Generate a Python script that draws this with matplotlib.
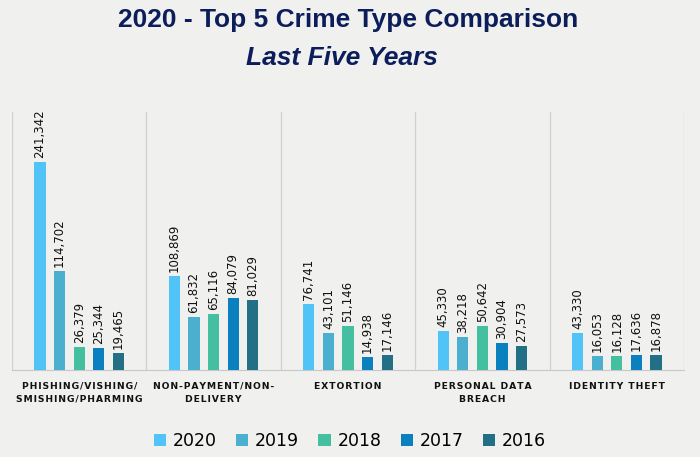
import matplotlib
matplotlib.use("Agg")
import matplotlib.pyplot as plt
import numpy as np
from matplotlib.patches import Patch

categories = ["PHISHING/VISHING/\nSMISHING/PHARMING", "NON-PAYMENT/NON-\nDELIVERY",
              "EXTORTION", "PERSONAL DATA\nBREACH", "IDENTITY THEFT"]
years = ["2020", "2019", "2018", "2017", "2016"]
v2020 = [241342, 108869, 76741, 45330, 43330]
v2019 = [114702, 61832, 43101, 38218, 16053]
v2018 = [26379, 65116, 51146, 50642, 16128]
v2017 = [25344, 84079, 14938, 30904, 17636]
v2016 = [19465, 81029, 17146, 27573, 16878]
series = [v2020, v2019, v2018, v2017, v2016]
colors = ["#52C3F7", "#4BAFCF", "#44BF9F", "#0A80BF", "#236F86"]


def spaced(s):
    return "\n".join("\u200a".join(line) for line in s.split("\n"))


bg = "#F0F0EE"
fig = plt.figure(figsize=(7, 4.57), dpi=100, facecolor=bg)
ax = fig.add_axes([12/700, 1-370/457, 672/700, (370-112)/457])
ax.set_facecolor("none")

n = len(categories)
x = np.arange(n)
slot = 19.6/134.4
bw = slot*0.57
for i, (vals, c) in enumerate(zip(series, colors)):
    pos = x + (i-2)*slot
    ax.bar(pos, vals, width=bw, color=c, zorder=3)
    for p, v in zip(pos, vals):
        ax.annotate(f"{v:,}", (p, v), xytext=(0, 3), textcoords="offset points",
                    rotation=90, ha="center", va="bottom", fontsize=8.5,
                    family="DejaVu Sans", color="#111111", zorder=4)

ax.set_xlim(-0.5, n-0.5)
ax.set_ylim(0, 300000)
for b in np.arange(-0.5, n, 1.0):
    ax.axvline(b, color="#D0D0D0", lw=0.9, zorder=1)
for s in ["top", "left", "right"]:
    ax.spines[s].set_visible(False)
ax.spines["bottom"].set_color("#C8C8C8")
ax.set_yticks([])
ax.set_xticks(x)
ax.set_xticklabels([spaced(c) for c in categories], fontsize=6.7, fontweight="bold",
                   color="#111111", linespacing=1.55, family="DejaVu Sans")
ax.tick_params(axis="x", length=0, pad=8.5)

fig.text(0.497, 1-27/457, "2020 - Top 5 Crime Type Comparison", ha="center",
         va="baseline", fontsize=19, fontweight="bold", color="#0B1D5A",
         family="Liberation Sans")
fig.text(0.4885, 1-65/457, "Last Five Years", ha="center", va="baseline",
         fontsize=19, fontweight="bold", style="italic", color="#0B1D5A",
         family="Liberation Sans")

handles = [Patch(facecolor=c, label=y) for c, y in zip(colors, years)]
fig.legend(handles=handles, loc="center", bbox_to_anchor=(0.5, 1-441/457),
           ncol=5, frameon=False, fontsize=12.5, handlelength=0.7, handleheight=0.7,
           columnspacing=1.1, handletextpad=0.4)

fig.savefig("out.png", dpi=100, facecolor=bg)
